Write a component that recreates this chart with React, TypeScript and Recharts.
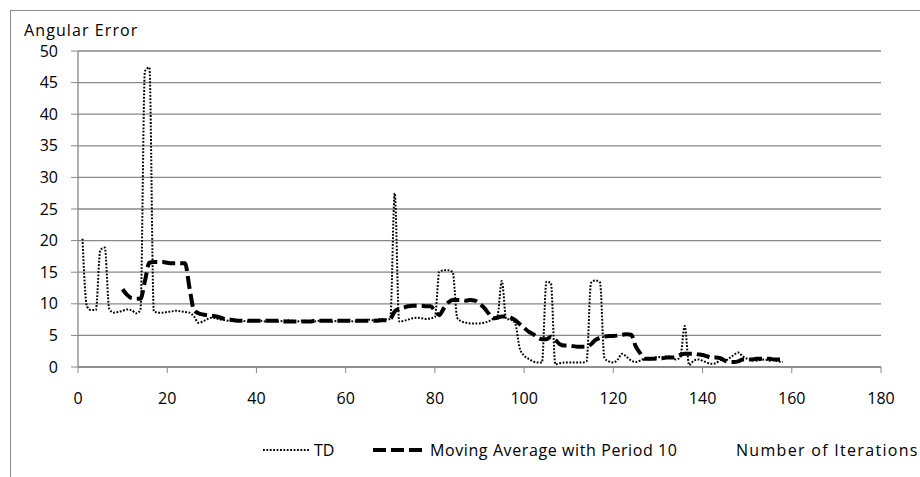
import { CartesianGrid, Legend, Line, LineChart, XAxis, YAxis } from "recharts";

// TD angular error, one value per iteration starting at iteration 1
const tdStart = 1;
const tdValues = [
  20.3, 9.6, 9.0, 9.0, 18.5, 18.9, 9.2, 8.6, 8.7, 8.9,
  9.1, 9.0, 8.5, 9.0, 46.8, 47.4, 8.8, 8.6, 8.6, 8.7,
  8.8, 8.9, 8.8, 8.7, 8.6, 8.0, 7.0, 7.2, 7.6, 7.8,
  7.7, 7.5, 7.4, 7.3, 7.3, 7.4, 7.3, 7.2, 7.3, 7.4,
  7.3, 7.2, 7.3, 7.3, 7.2, 7.3, 7.4, 7.3, 7.2, 7.3,
  7.3, 7.2, 7.2, 7.3, 7.4, 7.3, 7.2, 7.3, 7.3, 7.4,
  7.3, 7.2, 7.3, 7.4, 7.5, 7.4, 7.5, 7.6, 7.5, 7.6,
  27.5, 7.2, 7.3, 7.5, 7.7, 7.8, 7.7, 7.6, 7.7, 7.9,
  15.1, 15.3, 15.3, 15.0, 7.8, 7.2, 7.0, 6.9, 6.9, 6.9,
  7.0, 7.2, 7.6, 8.0, 13.6, 7.6, 7.5, 6.9, 3.0, 1.8,
  1.3, 0.9, 0.7, 0.7, 13.5, 13.3, 0.4, 0.6, 0.7, 0.7,
  0.7, 0.7, 0.7, 0.9, 13.3, 13.7, 13.4, 1.4, 0.9, 0.7,
  1.2, 2.1, 1.6, 1.0, 0.8, 1.0, 1.3, 1.2, 1.4, 1.6,
  1.5, 1.7, 1.6, 1.2, 1.5, 6.5, 0.3, 1.0, 1.2, 1.0,
  0.7, 0.5, 0.6, 1.1, 1.0, 1.4, 1.9, 2.3, 1.7, 1.3,
  1.1, 1.0, 1.1, 1.2, 1.0, 1.1, 0.9, 0.8
];

// moving average (period 10), starting at iteration 10
const maStart = 10;
const maValues = [
  12.3, 11.4, 10.9, 10.8, 10.8, 13.6, 16.5, 16.6, 16.6, 16.6,
  16.5, 16.4, 16.4, 16.4, 16.4, 12.5, 9.0, 8.5, 8.3, 8.2,
  8.1, 8.0, 7.8, 7.6, 7.5, 7.4, 7.3, 7.3, 7.3, 7.3,
  7.3, 7.3, 7.3, 7.3, 7.3, 7.3, 7.2, 7.2, 7.2, 7.2,
  7.2, 7.2, 7.2, 7.3, 7.3, 7.3, 7.3, 7.3, 7.3, 7.3,
  7.3, 7.3, 7.3, 7.3, 7.3, 7.3, 7.3, 7.3, 7.4, 7.4,
  7.6, 8.8, 9.2, 9.4, 9.6, 9.7, 9.7, 9.7, 9.6, 9.6,
  8.9, 8.2, 9.3, 10.2, 10.6, 10.6, 10.6, 10.5, 10.6, 10.5,
  10.0, 9.4, 8.5, 7.7, 7.8, 8.0, 8.0, 7.8, 7.4, 6.8,
  6.2, 5.6, 5.2, 4.7, 4.4, 4.4, 4.8, 4.3, 3.6, 3.4,
  3.4, 3.3, 3.2, 3.2, 3.2, 3.6, 4.3, 4.6, 4.8, 4.9,
  4.9, 5.0, 5.1, 5.2, 5.1, 3.3, 2.2, 1.3, 1.3, 1.3,
  1.4, 1.4, 1.5, 1.5, 1.6, 1.9, 2.1, 2.1, 2.1, 2.0,
  1.9, 1.7, 1.5, 1.5, 1.4, 1.0, 0.8, 0.8, 0.9, 1.2,
  1.2, 1.2, 1.3, 1.3, 1.3, 1.3, 1.2, 1.2, 1.2
];

const xTicks = [0, 20, 40, 60, 80, 100, 120, 140, 160, 180];
const yTicks = [0, 5, 10, 15, 20, 25, 30, 35, 40, 45, 50];

const font = "'Open Sans', sans-serif";
const gridColor = "#888888";

const data = tdValues.map((v, i) => {
  const x = tdStart + i;
  const ma = x >= maStart ? maValues[x - maStart] : undefined;
  return { x, td: v, ma };
});

function LegendContent() {
  return (
    <div
      style={{
        position: "relative",
        height: 22,
        fontFamily: font,
        fontSize: 16,
        color: "#000",
        whiteSpace: "nowrap"
      }}>
      <svg
        width={50}
        height={10}
        style={{ position: "absolute", left: 262, top: 6 }}>
        <line x1={1} y1={5} x2={48} y2={5} stroke="#000" strokeWidth={2} strokeDasharray="1.8 1.6" />
      </svg>
      <span style={{ position: "absolute", left: 314, top: 0 }}>TD</span>
      <svg
        width={52}
        height={10}
        style={{ position: "absolute", left: 372, top: 6 }}>
        <line x1={1} y1={5} x2={50} y2={5} stroke="#000" strokeWidth={4} strokeDasharray="13 5" />
      </svg>
      <span style={{ position: "absolute", left: 430, top: 0, letterSpacing: 0.6 }}>
        Moving Average with Period 10
      </span>
    </div>
  );
}

export default function App() {
  return (
    <div style={{ position: "relative", width: 920, height: 477, overflow: "hidden", background: "#fff" }}>
      <style>{"body{margin:0}"}</style>
      <div
        style={{
          position: "absolute",
          left: 10,
          top: 10,
          width: 940,
          height: 500,
          borderLeft: "1px solid #8c8c8c",
          borderTop: "1px solid #8c8c8c"
        }}
      />
      <div
        style={{
          position: "absolute",
          left: 24,
          top: 19,
          fontFamily: font,
          fontSize: 16,
          letterSpacing: 1.1,
          color: "#000",
          whiteSpace: "nowrap"
        }}>
        Angular Error
      </div>
      <div
        style={{
          position: "absolute",
          left: 736,
          top: 439,
          fontFamily: font,
          fontSize: 16,
          letterSpacing: 1.3,
          color: "#000",
          whiteSpace: "nowrap"
        }}>
        Number of Iterations
      </div>
      <LineChart
        width={920}
        height={477}
        data={data}
        margin={{ top: 51, right: 39, left: 0, bottom: 0 }}
        style={{ fontFamily: font, position: "absolute", left: 0, top: 0 }}>
        <CartesianGrid vertical={false} stroke={gridColor} strokeWidth={1.3} />
        <XAxis
          type="number"
          dataKey="x"
          domain={[0, 180]}
          ticks={xTicks}
          height={88}
          tickSize={6}
          tickMargin={20}
          axisLine={{ stroke: gridColor, strokeWidth: 1.3 }}
          tickLine={{ stroke: gridColor }}
          tick={{ fill: "#000", fontSize: 16 }}
          interval={0}
        />
        <YAxis
          type="number"
          domain={[0, 50]}
          ticks={yTicks}
          width={78}
          tickSize={7}
          tickMargin={13}
          axisLine={{ stroke: gridColor, strokeWidth: 1.3 }}
          tickLine={{ stroke: gridColor }}
          tick={{ fill: "#000", fontSize: 16 }}
          interval={0}
        />
        <Legend
          content={<LegendContent />}
          wrapperStyle={{ position: "absolute", left: 0, top: 439, width: 920 }}
        />
        <Line
          type="monotone"
          dataKey="td"
          stroke="#000"
          strokeWidth={2}
          strokeDasharray="1.8 1.6"
          dot={false}
          isAnimationActive={false}
        />
        <Line
          type="monotone"
          dataKey="ma"
          stroke="#000"
          strokeWidth={4}
          strokeDasharray="13 5"
          dot={false}
          isAnimationActive={false}
        />
      </LineChart>
    </div>
  );
}
